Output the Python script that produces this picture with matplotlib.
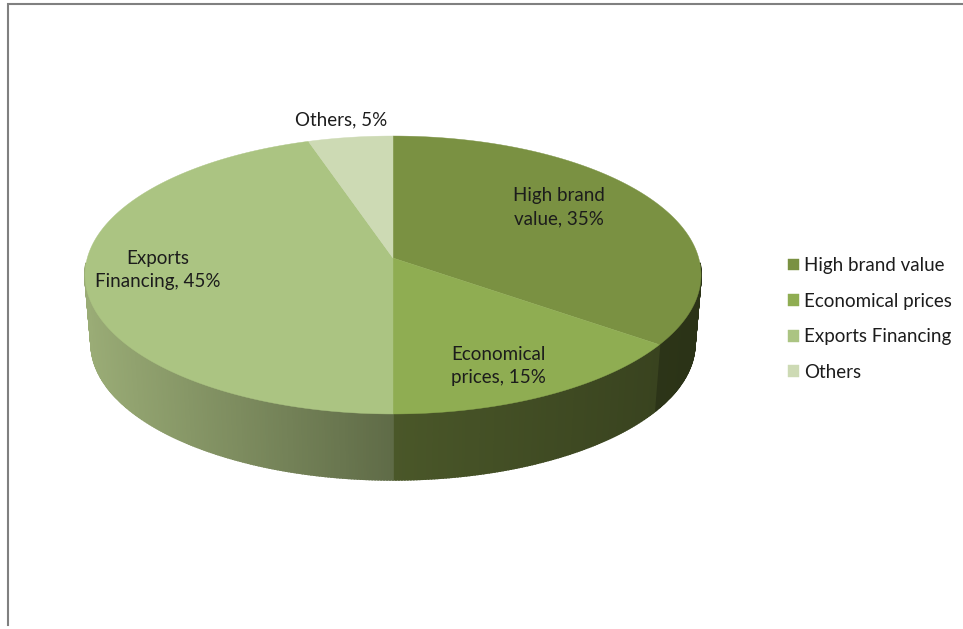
import numpy as np
import matplotlib
matplotlib.use('Agg')
import matplotlib.pyplot as plt
from matplotlib.colors import to_rgb

# 数据
labels = ['High brand value', 'Economical prices', 'Exports Financing', 'Others']
values = [35, 15, 45, 5]
slice_text = ['High brand\nvalue, 35%', 'Economical\nprices, 15%', 'Exports\nFinancing, 45%', 'Others, 5%']

top_colors = ['#7a9142', '#8fad52', '#abc482', '#cddab4']
# 侧面渐变: 每块从左到右的颜色
wall_colors = [('#323b1c', '#2b3317'), ('#4a5729', '#39431f'), ('#9aac76', '#5f6b47'), ('#9aac76', '#9aac76')]
text_pos = [(559, 207), (498, 366), (158, 270), (341, 120)]

plt.rcParams['font.family'] = ['Lato', 'DejaVu Sans']

fig = plt.figure(figsize=(9.63, 6.29), dpi=100)
ax = fig.add_axes([0, 0, 1, 1])
ax.set_xlim(0, 963)
ax.set_ylim(629, 0)
ax.axis('off')

# 透视参数
cx, cy = 393, 258
k = 0.1223
a, b = 305.7, 136.9


def project(theta):
    """theta 从正上方顺时针，单位为度"""
    t = np.radians(theta)
    u, v = np.sin(t), np.cos(t)
    w = 1 + k * v
    return cx + a * u / w, cy - b * v / w


def project_bottom(theta):
    x, y = project(theta)
    return cx + 0.98 * (x - cx), cy + 69 + 0.98 * (y - cy)


edges = np.concatenate([[0], np.cumsum(values)]) * 360 / sum(values)

# 先画侧面，只画前半圈，后面的被顶面挡住
for i in range(len(values)):
    steps = np.arange(edges[i], edges[i + 1] + 0.25, 0.5)
    steps[-1] = edges[i + 1]
    c0, c1 = np.array(to_rgb(wall_colors[i][0])), np.array(to_rgb(wall_colors[i][1]))
    xs = project(steps)[0]
    lo, hi = xs.min(), xs.max()
    for j in range(len(steps) - 1):
        pair = steps[j:j + 2]
        if pair[0] < 92 or pair[1] > 268:
            continue
        x1, y1 = project(pair)
        x2, y2 = project_bottom(pair)
        f = (x1.mean() - lo) / max(hi - lo, 1)
        col = c0 + (c1 - c0) * f
        ax.fill(np.r_[x1, x2[::-1]], np.r_[y1, y2[::-1]], color=col, lw=1.2)

# 顶面
handles = []
for i in range(len(values)):
    arc = np.linspace(edges[i], edges[i + 1], 200)
    x, y = project(arc)
    h = ax.fill(np.r_[cx, x], np.r_[cy, y], color=top_colors[i], lw=0.3, label=labels[i])
    handles.append(h[0])

# 数据标签
for i in range(len(values)):
    ax.text(text_pos[i][0], text_pos[i][1], slice_text[i], ha='center', va='center',
            fontsize=13.5, color='#1c1c1c', linespacing=1.43)

# 图例
ax.legend(handles=handles, loc='center left', bbox_to_anchor=(788, 319), bbox_transform=ax.transData,
          frameon=False, fontsize=13.5, handlelength=0.59, handleheight=0.59, handletextpad=0.27,
          labelspacing=0.995, borderpad=0, borderaxespad=0, labelcolor='#1c1c1c')

# 外框只留左边和上边
ax.plot([8, 8, 963], [625, 4, 4], color='#808080', lw=1.5, solid_joinstyle='miter')

plt.savefig('out.png', dpi=100)
